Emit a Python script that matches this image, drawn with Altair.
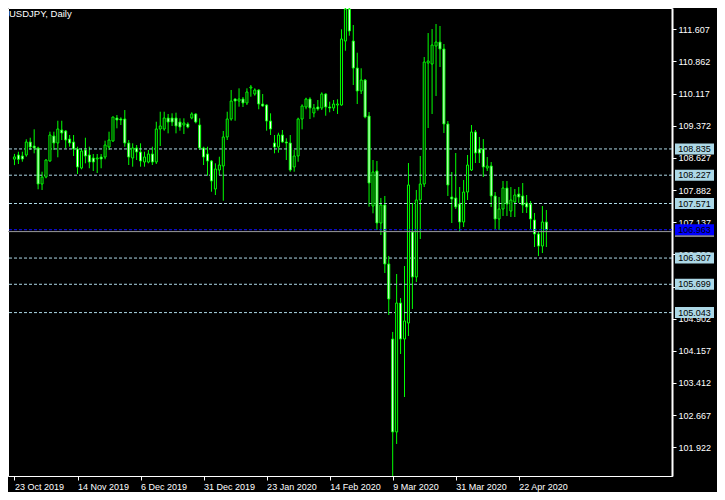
import altair as alt
import pandas as pd

chart_title = "USDJPY, Daily"

opens = [108.60, 108.695, 108.672, 108.695, 108.996, 108.903, 108.857, 108.023, 108.185, 108.556,
         109.135, 108.973, 109.274, 109.251, 109.065, 108.996, 108.834, 108.394, 108.811, 108.695,
         108.625, 108.602, 108.648, 108.648, 108.880, 109.019, 109.552, 109.529, 109.529, 108.973,
         108.625, 108.857, 108.764, 108.532, 108.532, 108.718, 108.532, 109.297, 109.297, 109.552,
         109.552, 109.552, 109.459, 109.390, 109.413, 109.552, 109.645, 109.390, 108.857, 108.718,
         108.556, 107.907, 108.347, 108.440, 109.112, 109.529, 109.992, 109.946, 109.992, 109.900,
         110.247, 110.108, 110.201, 109.876, 109.853, 109.482, 108.973, 108.880, 109.158, 108.996,
         108.973, 108.417, 108.672, 109.529, 109.807, 109.992, 109.668, 109.807, 109.784, 110.108,
         109.807, 109.784, 109.853, 109.853, 111.336, 112.077, 111.336, 110.710, 110.178, 110.432,
         109.598, 107.513, 108.324, 107.119, 107.536, 106.169, 104.431, 102.277, 105.265, 104.431,
         104.802, 106.911, 105.868, 107.652, 108.023, 110.826, 110.803, 111.220, 111.313, 111.151,
         109.413, 107.722, 107.699, 107.559, 107.142, 107.837, 108.347, 109.228, 108.834, 108.834,
         108.394, 108.440, 107.745, 107.212, 107.443, 107.930, 107.397, 107.606, 107.791, 107.745,
         107.583, 107.559, 107.189, 106.864, 106.586, 107.142]

highs = [108.72, 108.771, 108.771, 109.059, 109.095, 109.290, 108.887, 108.308, 108.595, 109.235,
         109.235, 109.489, 109.489, 109.274, 109.158, 109.158, 108.887, 108.850, 109.095, 108.887,
         108.718, 108.718, 108.718, 109.026, 109.235, 109.582, 109.621, 109.568, 109.737, 109.042,
         108.966, 108.926, 108.966, 108.771, 108.811, 108.887, 109.466, 109.698, 109.698, 109.645,
         109.661, 109.675, 109.545, 109.545, 109.452, 109.684, 109.661, 109.545, 108.887, 108.887,
         108.579, 108.502, 108.655, 109.251, 109.698, 110.201, 110.008, 110.240, 110.039, 110.240,
         110.317, 110.240, 110.217, 110.108, 109.869, 109.661, 109.158, 109.211, 109.274, 109.082,
         109.158, 108.811, 109.559, 109.869, 110.022, 110.032, 109.876, 109.969, 110.147, 110.124,
         109.930, 109.969, 109.985, 111.607, 112.223, 112.210, 111.707, 111.065, 110.704, 110.456,
         109.691, 108.579, 108.556, 107.699, 107.745, 106.355, 104.594, 105.937, 105.381, 106.123,
         108.509, 107.583, 107.884, 108.672, 110.965, 111.521, 111.614, 111.730, 111.684, 111.267,
         109.482, 108.301, 108.741, 107.953, 108.115, 108.695, 109.390, 109.274, 109.112, 109.065,
         108.648, 108.532, 107.837, 107.722, 108.092, 108.092, 107.953, 107.907, 107.953, 108.046,
         107.768, 107.629, 107.351, 106.934, 107.513, 107.420]

lows = [108.46, 108.486, 108.539, 108.655, 108.811, 108.734, 107.900, 107.884, 108.155, 108.539,
        108.811, 108.641, 109.042, 108.850, 108.887, 108.672, 108.255, 108.363, 108.502, 108.387,
        108.324, 108.278, 108.387, 108.595, 108.811, 109.003, 109.313, 109.390, 108.887, 108.463,
        108.424, 108.579, 108.424, 108.424, 108.502, 108.463, 108.486, 108.903, 109.258, 109.197,
        109.367, 109.197, 109.258, 109.181, 109.313, 109.522, 109.429, 108.811, 108.463, 108.215,
        107.844, 107.768, 108.231, 107.636, 109.042, 109.489, 109.489, 109.814, 109.807, 109.853,
        110.045, 110.069, 109.754, 109.814, 109.258, 109.158, 108.734, 108.748, 108.980, 108.579,
        108.308, 108.308, 108.539, 109.290, 109.754, 109.529, 109.568, 109.721, 109.737, 109.605,
        109.684, 109.714, 109.645, 109.837, 111.111, 111.459, 110.317, 109.876, 110.108, 109.545,
        107.497, 107.344, 106.957, 106.841, 105.961, 104.987, 101.180, 101.999, 104.084, 103.087,
        104.501, 105.127, 105.752, 106.749, 107.953, 109.320, 109.645, 110.062, 110.734, 109.204,
        107.745, 107.119, 107.443, 106.911, 107.026, 107.652, 108.324, 108.509, 108.509, 108.185,
        108.324, 107.490, 106.980, 106.957, 107.281, 107.281, 107.258, 107.258, 107.583, 107.351,
        107.351, 106.980, 106.563, 106.355, 106.424, 106.563]

closes = [108.65, 108.595, 108.602, 108.996, 108.880, 108.857, 108.023, 108.185, 108.579, 109.158,
          108.973, 109.297, 109.204, 109.042, 108.973, 108.834, 108.417, 108.787, 108.672, 108.532,
          108.532, 108.625, 108.602, 108.926, 109.042, 109.575, 109.506, 109.506, 108.973, 108.648,
          108.857, 108.764, 108.556, 108.648, 108.718, 108.532, 109.297, 109.367, 109.552, 109.459,
          109.459, 109.367, 109.343, 109.436, 109.343, 109.645, 109.459, 108.857, 108.648, 108.556,
          108.092, 108.370, 108.463, 109.112, 109.529, 109.946, 109.946, 109.992, 109.900, 110.154,
          110.270, 110.201, 109.876, 109.830, 109.482, 109.297, 108.880, 109.158, 108.996, 108.973,
          108.347, 108.672, 109.529, 109.830, 109.992, 109.784, 109.784, 109.761, 110.108, 109.807,
          109.784, 109.876, 109.876, 111.382, 112.077, 111.568, 110.710, 110.178, 110.432, 109.575,
          108.046, 108.301, 107.119, 107.536, 106.169, 105.358, 102.277, 105.265, 104.431, 104.849,
          108.000, 105.868, 107.652, 108.023, 110.849, 110.873, 111.243, 111.313, 111.151, 109.413,
          108.000, 107.675, 107.490, 107.142, 107.837, 108.463, 109.228, 108.741, 108.741, 108.417,
          108.440, 107.745, 107.212, 107.443, 107.930, 107.559, 107.652, 107.768, 107.722, 107.536,
          107.490, 107.212, 106.864, 106.586, 107.142, 106.963]

date_tick_index = [0, 16, 32, 48, 64, 80, 96, 112, 128]
date_tick_labels = ["23 Oct 2019", "14 Nov 2019", "6 Dec 2019", "31 Dec 2019", "23 Jan 2020",
                    "14 Feb 2020", "9 Mar 2020", "31 Mar 2020", "22 Apr 2020"]

price_ticks = [111.607, 110.862, 110.117, 109.372, 108.627, 107.882, 107.137,
               106.392, 105.647, 104.902, 104.157, 103.412, 102.667, 101.922]

levels = [108.835, 108.227, 107.571, 106.307, 105.699, 105.043]
bid_price = 106.963
gray_line_price = 106.92

FONT = "Liberation Sans"
LIME = "#00ff00"
LEVEL_COLOR = "#add8e6"

n = len(closes)
candles = pd.DataFrame({
    "i": list(range(n)),
    "open": opens,
    "high": highs,
    "low": lows,
    "close": closes,
})
candles["fill"] = ["black" if c >= o else "white" for o, c in zip(opens, closes)]

level_df = pd.DataFrame({"price": levels, "label": [f"{v:.3f}" for v in levels]})
bid_df = pd.DataFrame({"price": [bid_price], "label": [f"{bid_price:.3f}"]})
gray_df = pd.DataFrame({"price": [gray_line_price]})

# 4 px per bar, aligned to the pixel grid
x_scale = alt.Scale(domain=[-0.375, 165.625], nice=False, zero=False)
y_scale = alt.Scale(domain=[101.257, 112.101], nice=False, zero=False)

label_expr = " : ".join(
    f"datum.value == {i} ? '{s}'" for i, s in zip(date_tick_index, date_tick_labels)
) + " : ''"

x_axis = alt.Axis(values=date_tick_index, labelExpr=label_expr, labelAlign="left",
                  labelColor="white", labelFont=FONT, labelFontSize=9, labelPadding=2,
                  tickColor="white", tickSize=4, domainColor="white", grid=False,
                  labelOverlap=False, labelFlush=False, labelBound=False)
y_axis = alt.Axis(orient="right", values=price_ticks, format=".3f", labelColor="white",
                  labelFont=FONT, labelFontSize=9, labelPadding=2, tickColor="white",
                  tickSize=4, domainColor="white", domainWidth=2, grid=False,
                  labelOverlap=False, labelFlush=False, labelBound=False)

base = alt.Chart(candles)

wicks = base.mark_rule(color=LIME, strokeWidth=1, clip=True).encode(
    x=alt.X("i:Q", scale=x_scale, axis=x_axis, title=None),
    y=alt.Y("low:Q", scale=y_scale, axis=y_axis, title=None),
    y2="high:Q",
)

levels_layer = alt.Chart(level_df).mark_rule(color=LEVEL_COLOR, strokeDash=[3, 2], strokeWidth=1).encode(
    y=alt.Y("price:Q", scale=y_scale, axis=y_axis, title=None)
)

bodies = base.mark_bar(size=2, stroke=LIME, strokeWidth=1, clip=True).encode(
    x=alt.X("i:Q", scale=x_scale, axis=x_axis, title=None),
    y=alt.Y("open:Q", scale=y_scale, axis=y_axis, title=None),
    y2="close:Q",
    fill=alt.Fill("fill:N", scale=None),
)

gray_line = alt.Chart(gray_df).mark_rule(color="#9a9a9a", strokeWidth=1).encode(
    y=alt.Y("price:Q", scale=y_scale, axis=y_axis, title=None)
)
bid_line = alt.Chart(bid_df).mark_rule(color="#1010ff", strokeDash=[3, 2], strokeWidth=1).encode(
    y=alt.Y("price:Q", scale=y_scale, axis=y_axis, title=None)
)

level_boxes = alt.Chart(level_df).mark_rule(color=LEVEL_COLOR, strokeWidth=11, strokeCap="butt").encode(
    y=alt.Y("price:Q", scale=y_scale, axis=y_axis, title=None), x=alt.value(667), x2=alt.value(706)
)
level_text = alt.Chart(level_df).mark_text(font=FONT, fontSize=9, color="black", align="center",
                                           baseline="middle").encode(
    y=alt.Y("price:Q", scale=y_scale, axis=y_axis, title=None), x=alt.value(686.5), text="label:N"
)

gray_box = alt.Chart(gray_df).mark_rule(color="#808080", strokeWidth=11, strokeCap="butt").encode(
    y=alt.Y("price:Q", scale=y_scale, axis=y_axis, title=None), x=alt.value(667), x2=alt.value(706)
)
bid_box = alt.Chart(bid_df).mark_rule(color="#0000ff", strokeWidth=11, strokeCap="butt").encode(
    y=alt.Y("price:Q", scale=y_scale, axis=y_axis, title=None), x=alt.value(667), x2=alt.value(706)
)
bid_text = alt.Chart(bid_df).mark_text(font=FONT, fontSize=9, color="black", align="center",
                                       baseline="middle").encode(
    y=alt.Y("price:Q", scale=y_scale, axis=y_axis, title=None), x=alt.value(686.5), text="label:N"
)

title_df = pd.DataFrame({"t": [chart_title]})
title_text = alt.Chart(title_df).mark_text(font=FONT, fontSize=9.5, color="white", align="left",
                                           baseline="top").encode(
    x=alt.value(1), y=alt.value(1), text="t:N"
)

chart = alt.layer(
    wicks, levels_layer, bodies, gray_line, bid_line,
    level_boxes, level_text, gray_box, bid_box, bid_text, title_text
).properties(
    width=664, height=468,
    autosize=alt.AutoSizeParams(type="none"),
    padding={"left": 0, "top": 0, "right": 45, "bottom": 16},
).configure(
    background="black"
).configure_axis(
    labelOverlap=False, labelFlush=False, labelBound=False
).configure_view(
    stroke="white", strokeWidth=1
)

chart.save("out.html", embed_options={"renderer": "svg", "actions": False})
